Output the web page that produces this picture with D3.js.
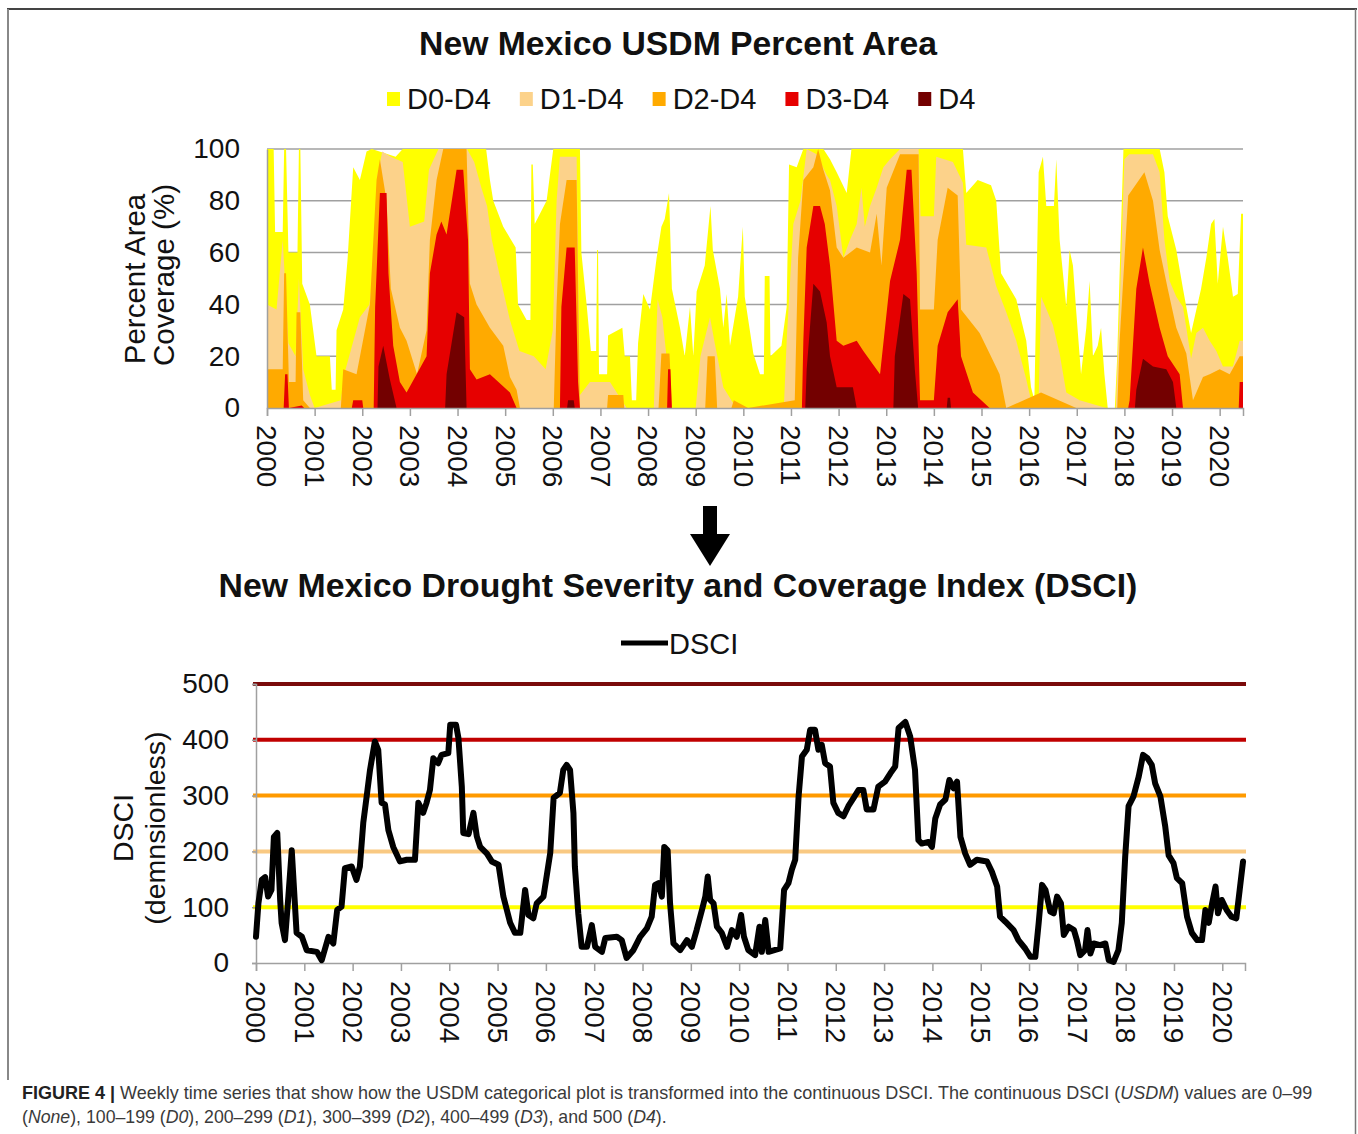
<!DOCTYPE html>
<html><head><meta charset="utf-8">
<script src="https://cdn.jsdelivr.net/npm/d3@7"></script>
<style>body{margin:0;background:#fff} svg{display:block}</style>
</head><body><svg id="c" width="1358" height="1134"></svg>
<script>
// ---------------- DATA ----------------
const years = d3.range(2000, 2021);
const legendLabels = ["D0-D4", "D1-D4", "D2-D4", "D3-D4", "D4"];
const pctTicks = [0, 20, 40, 60, 80, 100];
const dsciTicks = [0, 100, 200, 300, 400, 500];
const refLevels = [100, 200, 300, 400, 500];

// [decimal year, percent area] readings
const d0Points = [[2000.00,100],[2000.14,100],[2000.17,68],[2000.33,68],[2000.36,100],[2000.40,100],[2000.45,60],[2000.64,60],[2000.67,100],[2000.70,100],[2000.74,48],[2000.90,40],[2001.04,20],[2001.32,20],[2001.36,7],[2001.44,7],[2001.46,30],[2001.60,38],[2001.69,57],[2001.81,93],[2001.95,88],[2002.09,99],[2002.20,100],[2002.70,97],[2002.85,100],[2004.60,100],[2004.68,88],[2004.75,80],[2004.96,70],[2005.22,62],[2005.27,40],[2005.45,34],[2005.53,34],[2005.55,94],[2005.58,94],[2005.62,71],[2005.87,80],[2006.01,100],[2006.57,100],[2006.60,60],[2006.71,40],[2006.80,22],[2006.91,22],[2006.93,61],[2006.95,61],[2006.97,13],[2007.14,13],[2007.16,28],[2007.46,31],[2007.51,20],[2007.62,20],[2007.66,3],[2007.75,3],[2007.79,25],[2007.90,44],[2008.04,38],[2008.18,58],[2008.28,70],[2008.35,73],[2008.44,83],[2008.50,46],[2008.67,31],[2008.77,20],[2008.88,39],[2008.95,20],[2009.02,45],[2009.19,55],[2009.31,78],[2009.36,61],[2009.51,46],[2009.58,31],[2009.65,44],[2009.72,24],[2009.89,43],[2009.99,70],[2010.03,43],[2010.21,21],[2010.35,13],[2010.43,13],[2010.45,51],[2010.55,51],[2010.57,20],[2010.80,24],[2010.91,39],[2010.96,94],[2011.12,93],[2011.26,100],[2011.68,100],[2011.82,96],[2011.96,91],[2012.17,83],[2012.27,100],[2014.61,100],[2014.68,83],[2014.92,88],[2015.20,86],[2015.31,80],[2015.41,52],[2015.73,42],[2015.94,26],[2016.04,8],[2016.11,3],[2016.20,91],[2016.29,97],[2016.36,78],[2016.52,78],[2016.57,96],[2016.64,65],[2016.78,39],[2016.85,61],[2016.92,55],[2016.99,37],[2017.09,13],[2017.20,31],[2017.27,49],[2017.34,20],[2017.44,24],[2017.51,31],[2017.58,13],[2017.65,0],[2017.80,0],[2017.85,20],[2017.90,52],[2017.98,100],[2018.74,100],[2018.84,91],[2018.91,74],[2019.09,61],[2019.23,46],[2019.40,29],[2019.61,46],[2019.72,58],[2019.82,71],[2019.89,73],[2019.96,48],[2020.07,70],[2020.17,58],[2020.28,43],[2020.38,44],[2020.45,75],[2020.49,75]];
const d1Points = [[2000.00,40],[2000.20,38],[2000.33,65],[2000.45,25],[2000.60,20],[2000.67,50],[2000.76,15],[2000.90,5],[2001.00,0],[2001.55,3],[2001.65,15],[2001.80,25],[2001.95,35],[2002.15,40],[2002.25,55],[2002.32,90],[2002.42,99],[2002.60,97],[2002.85,95],[2003.00,70],[2003.30,72],[2003.40,92],[2003.60,100],[2004.20,100],[2004.35,95],[2004.50,85],[2004.62,78],[2004.72,65],[2004.90,50],[2005.10,34],[2005.30,22],[2005.60,20],[2005.85,15],[2006.00,30],[2006.08,80],[2006.15,97],[2006.50,97],[2006.57,5],[2006.78,10],[2007.20,10],[2007.55,0],[2008.12,0],[2008.20,42],[2008.30,35],[2008.50,0],[2009.00,0],[2009.10,20],[2009.30,35],[2009.40,25],[2009.58,8],[2009.85,0],[2010.85,0],[2010.91,26],[2011.05,71],[2011.20,80],[2011.33,100],[2011.54,98],[2011.75,90],[2011.82,88],[2011.96,78],[2012.10,58],[2012.24,65],[2012.38,71],[2012.48,85],[2012.55,70],[2012.66,78],[2012.80,85],[2012.94,93],[2013.08,96],[2013.29,100],[2013.68,100],[2013.72,74],[2014.00,74],[2014.05,97],[2014.40,95],[2014.61,87],[2014.68,63],[2015.10,62],[2015.31,47],[2015.52,37],[2015.73,26],[2015.94,11],[2016.04,3],[2016.20,3],[2016.25,43],[2016.39,37],[2016.50,32],[2016.64,21],[2016.78,6],[2017.06,3],[2017.62,0],[2017.82,0],[2017.90,39],[2018.00,96],[2018.10,98],[2018.60,98],[2018.74,91],[2018.84,65],[2018.95,49],[2019.09,43],[2019.23,39],[2019.30,31],[2019.40,19],[2019.51,29],[2019.65,31],[2019.79,26],[2019.93,22],[2020.07,16],[2020.28,16],[2020.42,26],[2020.49,26]];
const d2Points = [[2000.00,15],[2000.33,15],[2000.36,52],[2000.40,52],[2000.46,10],[2000.60,10],[2000.62,37],[2000.70,37],[2000.76,3],[2000.90,0],[2001.55,0],[2001.60,15],[2001.88,13],[2002.16,40],[2002.30,88],[2002.37,96],[2002.51,80],[2002.60,46],[2002.79,31],[2002.93,26],[2003.15,13],[2003.35,30],[2003.42,65],[2003.56,88],[2003.70,100],[2004.19,100],[2004.26,48],[2004.40,40],[2004.68,31],[2004.96,24],[2005.10,12],[2005.24,7],[2005.31,0],[2006.02,0],[2006.08,40],[2006.15,71],[2006.29,88],[2006.50,88],[2006.57,0],[2007.14,0],[2007.16,5],[2007.48,5],[2007.50,0],[2008.22,0],[2008.28,21],[2008.45,21],[2008.50,0],[2009.20,0],[2009.25,20],[2009.40,20],[2009.45,0],[2009.75,0],[2009.80,3],[2010.10,0],[2011.08,3],[2011.15,58],[2011.26,88],[2011.47,93],[2011.57,100],[2011.68,92],[2011.82,84],[2011.96,62],[2012.10,58],[2012.38,62],[2012.66,60],[2012.80,75],[2012.90,55],[2013.01,85],[2013.29,98],[2013.68,98],[2013.71,38],[2014.00,38],[2014.08,65],[2014.29,85],[2014.50,82],[2014.57,38],[2014.96,29],[2015.17,21],[2015.38,13],[2015.52,0],[2016.25,6],[2016.99,0],[2017.85,0],[2017.90,26],[2018.08,82],[2018.42,91],[2018.60,80],[2018.74,61],[2018.91,46],[2019.09,31],[2019.30,21],[2019.44,3],[2019.65,12],[2019.79,13],[2020.00,15],[2020.21,13],[2020.42,20],[2020.49,20]];
const d3Points = [[2000.00,0],[2000.35,0],[2000.38,13],[2000.43,13],[2000.46,0],[2000.73,1],[2000.78,0],[2001.78,0],[2001.81,3],[2002.00,3],[2002.02,0],[2002.24,0],[2002.27,39],[2002.37,83],[2002.51,83],[2002.55,52],[2002.65,24],[2002.79,10],[2002.93,6],[2003.35,20],[2003.42,52],[2003.56,67],[2003.66,72],[2003.77,67],[2003.98,92],[2004.12,92],[2004.22,65],[2004.26,15],[2004.40,11],[2004.68,13],[2005.10,6],[2005.24,0],[2006.15,0],[2006.18,39],[2006.29,62],[2006.46,62],[2006.53,10],[2006.57,0],[2008.40,0],[2008.42,15],[2008.47,15],[2008.50,0],[2011.23,0],[2011.26,26],[2011.33,62],[2011.47,78],[2011.61,78],[2011.71,71],[2011.82,55],[2011.96,26],[2012.10,24],[2012.38,26],[2012.52,22],[2012.87,13],[2013.08,49],[2013.29,65],[2013.43,92],[2013.53,92],[2013.64,52],[2013.71,3],[2014.00,3],[2014.08,24],[2014.29,37],[2014.50,42],[2014.57,20],[2014.82,6],[2015.17,0],[2018.08,0],[2018.11,3],[2018.25,46],[2018.39,62],[2018.53,48],[2018.74,31],[2018.91,20],[2019.16,13],[2019.23,0],[2020.40,0],[2020.42,10],[2020.49,10]];
const d4Points = [[2000.00,0],[2002.32,0],[2002.34,16],[2002.44,24],[2002.58,11],[2002.72,0],[2003.74,0],[2003.77,13],[2003.98,37],[2004.14,35],[2004.19,0],[2006.30,0],[2006.32,3],[2006.44,3],[2006.46,0],[2011.30,0],[2011.33,15],[2011.47,48],[2011.61,45],[2011.75,33],[2011.82,20],[2011.96,8],[2012.30,8],[2012.38,0],[2013.15,0],[2013.18,20],[2013.36,44],[2013.50,42],[2013.60,15],[2013.67,0],[2014.27,0],[2014.29,4],[2014.34,4],[2014.36,0],[2018.22,0],[2018.25,7],[2018.39,19],[2018.60,16],[2018.88,15],[2019.02,10],[2019.09,0],[2020.49,0]];

const dsciYears = [2000.00,2000.05,2000.12,2000.19,2000.25,2000.32,2000.37,2000.44,2000.50,2000.53,2000.60,2000.67,2000.74,2000.84,2000.95,2001.05,2001.26,2001.36,2001.50,2001.60,2001.68,2001.77,2001.84,2001.98,2002.08,2002.15,2002.22,2002.29,2002.36,2002.46,2002.53,2002.60,2002.67,2002.74,2002.84,2002.98,2003.12,2003.29,2003.36,2003.46,2003.53,2003.60,2003.67,2003.77,2003.84,2003.98,2004.02,2004.14,2004.19,2004.26,2004.29,2004.40,2004.50,2004.57,2004.64,2004.78,2004.88,2005.02,2005.12,2005.26,2005.36,2005.47,2005.57,2005.64,2005.74,2005.81,2005.95,2006.09,2006.16,2006.29,2006.36,2006.43,2006.50,2006.57,2006.60,2006.67,2006.74,2006.85,2006.95,2007.02,2007.16,2007.23,2007.47,2007.57,2007.67,2007.81,2007.95,2008.09,2008.19,2008.26,2008.33,2008.40,2008.45,2008.52,2008.57,2008.64,2008.78,2008.92,2009.02,2009.12,2009.23,2009.30,2009.35,2009.40,2009.47,2009.54,2009.64,2009.75,2009.85,2009.95,2010.04,2010.10,2010.19,2010.33,2010.42,2010.47,2010.54,2010.61,2010.85,2010.93,2011.02,2011.09,2011.16,2011.23,2011.30,2011.40,2011.47,2011.57,2011.64,2011.71,2011.78,2011.88,2011.95,2012.05,2012.16,2012.26,2012.37,2012.47,2012.57,2012.64,2012.78,2012.88,2013.02,2013.13,2013.23,2013.30,2013.44,2013.54,2013.64,2013.71,2013.78,2013.92,2013.99,2014.06,2014.16,2014.27,2014.35,2014.44,2014.51,2014.58,2014.68,2014.78,2014.92,2015.13,2015.23,2015.34,2015.40,2015.51,2015.68,2015.78,2015.92,2016.03,2016.13,2016.20,2016.27,2016.34,2016.44,2016.51,2016.58,2016.66,2016.72,2016.82,2016.93,2016.99,2017.06,2017.16,2017.21,2017.27,2017.34,2017.47,2017.58,2017.65,2017.75,2017.85,2017.92,2017.99,2018.06,2018.16,2018.27,2018.36,2018.45,2018.54,2018.61,2018.72,2018.82,2018.89,2018.99,2019.06,2019.17,2019.27,2019.37,2019.48,2019.58,2019.65,2019.72,2019.79,2019.86,2019.91,2019.99,2020.09,2020.19,2020.29,2020.36,2020.43];
const dsciValues = [47,107,149,154,119,131,226,233,113,72,41,119,202,54,47,23,20,5,47,35,95,101,170,173,149,173,251,298,346,397,382,287,284,238,208,182,185,185,287,269,287,310,367,358,373,376,427,427,403,316,233,231,269,227,208,196,182,176,119,72,54,54,131,86,80,107,119,197,296,305,346,355,346,269,173,89,29,29,68,29,20,45,47,41,9,23,47,62,83,140,143,119,208,202,107,35,23,41,29,59,95,119,155,113,107,65,54,29,59,47,86,47,23,14,65,20,77,20,26,131,143,167,185,298,370,382,418,418,382,391,358,352,287,269,263,281,296,310,310,275,275,316,325,340,352,421,432,406,346,220,214,217,208,259,284,293,328,313,325,226,196,176,185,182,164,137,83,74,59,41,26,11,11,72,140,131,92,89,119,107,50,65,59,41,14,23,59,17,35,32,35,5,2,23,72,190,281,298,334,373,367,355,322,298,244,193,179,152,143,83,54,41,41,95,72,107,137,89,113,95,83,80,131,182];

// ---------------- STYLE ----------------
const FONT = "'Liberation Sans', Arial, Helvetica, sans-serif";
const layerColors = ["#FFFF00", "#FCD28A", "#FFAA00", "#E60000", "#730000"];
const refColors = {100: "#FFFF00", 200: "#F9C982", 300: "#FF9A00", 400: "#C00000", 500: "#7A0A0A"};
const axisGray = "#A0A0A0";

const svg = d3.select("#c").style("font-family", FONT);

// frame
svg.append("line").attr("x1", 7).attr("x2", 1357).attr("y1", 9).attr("y2", 9).attr("stroke", "#444").attr("stroke-width", 2);
svg.append("line").attr("x1", 8).attr("x2", 8).attr("y1", 9).attr("y2", 1080).attr("stroke", "#888").attr("stroke-width", 2);
svg.append("line").attr("x1", 1355.5).attr("x2", 1355.5).attr("y1", 9).attr("y2", 1134).attr("stroke", "#777").attr("stroke-width", 1.5);

function fitText(sel, target) {
  const base = 30;
  sel.style("font-size", base + "px");
  const w = sel.node().getComputedTextLength();
  sel.style("font-size", (base * target / w) + "px");
}

// ---------------- TOP CHART ----------------
const xT = d3.scaleLinear().domain([2000, 2020.49]).range([267, 1243]);
const yT = d3.scaleLinear().domain([0, 100]).range([408, 149]);

const t1 = svg.append("text").attr("x", 678).attr("y", 55).attr("text-anchor", "middle")
  .attr("font-weight", "bold").attr("fill", "#111").text("New Mexico USDM Percent Area");
fitText(t1, 518);

// legend
let lx = 387;
legendLabels.forEach((lab, i) => {
  svg.append("rect").attr("x", lx).attr("y", 92).attr("width", 13).attr("height", 14).attr("fill", layerColors[i]);
  const tx = svg.append("text").attr("x", lx + 20).attr("y", 109).style("font-size", "29px").attr("fill", "#111").text(lab);
  lx += 20 + tx.node().getComputedTextLength() + 29;
});

// grid
svg.append("g").selectAll("line").data(pctTicks.filter(d => d > 0)).join("line")
  .attr("x1", xT.range()[0]).attr("x2", xT.range()[1])
  .attr("y1", d => yT(d)).attr("y2", d => yT(d))
  .attr("stroke", axisGray).attr("stroke-width", 1.5);

// areas
const layers = [d0Points, d1Points, d2Points, d3Points, d4Points];
const area = d3.area().x(d => xT(d[0])).y0(yT(0)).y1(d => yT(d[1])).curve(d3.curveLinear);
svg.append("g").selectAll("path").data(layers).join("path")
  .attr("d", area).attr("fill", (d, i) => layerColors[i]);

// axes
const yAxT = svg.append("g").attr("transform", `translate(${xT.range()[0]},0)`)
  .call(d3.axisLeft(yT).tickValues(pctTicks).tickSize(0).tickPadding(27));
yAxT.select(".domain").attr("stroke", axisGray).attr("stroke-width", 1.5);
yAxT.selectAll("text").style("font-size", "28px").attr("fill", "#111").attr("font-family", FONT);

const xAxT = svg.append("g").attr("transform", `translate(0,${yT(0)})`)
  .call(d3.axisBottom(xT).tickValues(years).tickSize(8).tickFormat(d3.format("d")));
xAxT.select(".domain").attr("stroke", axisGray).attr("stroke-width", 1.5);
xAxT.selectAll(".tick line").attr("stroke", axisGray).attr("stroke-width", 1.5);
xAxT.selectAll("text").attr("transform", "rotate(90)").attr("x", 17).attr("y", 0).attr("dy", "0.36em")
  .style("text-anchor", "start").style("font-size", "28px").attr("fill", "#111").attr("font-family", FONT);

svg.append("text").attr("transform", "translate(145,279) rotate(-90)").attr("text-anchor", "middle")
  .style("font-size", "29.5px").attr("fill", "#111").text("Percent Area");
svg.append("text").attr("transform", "translate(174,275) rotate(-90)").attr("text-anchor", "middle")
  .style("font-size", "29.5px").attr("fill", "#111").text("Coverage (%)");

// arrow
svg.append("path").attr("d", "M703,506 L717,506 L717,534 L730,534 L710,566 L690,534 L703,534 Z").attr("fill", "#000");

// ---------------- BOTTOM CHART ----------------
const xB = d3.scaleLinear().domain([2000, 2020.47]).range([256, 1245]);
const yB = d3.scaleLinear().domain([0, 500]).range([963, 684]);

const t2 = svg.append("text").attr("x", 678).attr("y", 597).attr("text-anchor", "middle")
  .attr("font-weight", "bold").attr("fill", "#111").text("New Mexico Drought Severity and Coverage Index (DSCI)");
fitText(t2, 919);

// legend
svg.append("line").attr("x1", 621).attr("x2", 668).attr("y1", 643).attr("y2", 643).attr("stroke", "#000").attr("stroke-width", 5);
svg.append("text").attr("x", 669).attr("y", 654).style("font-size", "29px").attr("fill", "#111").text("DSCI");

// reference lines
svg.append("g").selectAll("line").data(refLevels).join("line")
  .attr("x1", 253).attr("x2", 1246).attr("y1", d => yB(d)).attr("y2", d => yB(d))
  .attr("stroke", d => refColors[d]).attr("stroke-width", 4);

const yAxB = svg.append("g").attr("transform", `translate(${xB.range()[0]},0)`)
  .call(d3.axisLeft(yB).tickValues(dsciTicks).tickSize(4).tickPadding(23));
yAxB.select(".domain").attr("stroke", axisGray).attr("stroke-width", 1.5);
yAxB.selectAll(".tick line").attr("stroke", axisGray).attr("stroke-width", 1.5);
yAxB.selectAll("text").style("font-size", "28px").attr("fill", "#111").attr("font-family", FONT);

const xAxB = svg.append("g").attr("transform", `translate(0,${yB(0)})`)
  .call(d3.axisBottom(xB).tickValues(years).tickSize(8).tickFormat(d3.format("d")));
xAxB.select(".domain").attr("stroke", axisGray).attr("stroke-width", 1.5);
xAxB.selectAll(".tick line").attr("stroke", axisGray).attr("stroke-width", 1.5);
xAxB.selectAll("text").attr("transform", "rotate(90)").attr("x", 18).attr("y", 0).attr("dy", "0.36em")
  .style("text-anchor", "start").style("font-size", "28px").attr("fill", "#111").attr("font-family", FONT);

// DSCI line
const line = d3.line().x((d, i) => xB(dsciYears[i])).y(d => yB(d));
svg.append("path").datum(dsciValues).attr("d", line).attr("fill", "none")
  .attr("stroke", "#000").attr("stroke-width", 6).attr("stroke-linejoin", "round").attr("stroke-linecap", "round");

svg.append("text").attr("transform", "translate(133,828) rotate(-90)").attr("text-anchor", "middle")
  .style("font-size", "28.5px").attr("fill", "#111").text("DSCI");
svg.append("text").attr("transform", "translate(165,828) rotate(-90)").attr("text-anchor", "middle")
  .style("font-size", "28.5px").attr("fill", "#111").text("(demnsionless)");

// ---------------- CAPTION ----------------
const CAPFONT = "'Liberation Sans Narrow', 'Arial Narrow', 'Liberation Sans', Arial, sans-serif";
function caption(y, parts, targetW) {
  const g = svg.append("g");
  const t = g.append("text").attr("x", 0).attr("y", 0).style("font-family", CAPFONT)
    .style("font-size", "17.5px").attr("fill", "#3a3a3a").attr("xml:space", "preserve");
  parts.forEach(p => {
    const s = t.append("tspan").text(p[0]);
    if (p[1] === "b") s.attr("font-weight", "bold").attr("fill", "#222");
    if (p[1] === "i") s.attr("font-style", "italic");
  });
  const w = t.node().getComputedTextLength();
  g.attr("transform", `translate(22,${y}) scale(${targetW / w},1)`);
}
caption(1099, [["FIGURE 4 |", "b"], [" Weekly time series that show how the USDM categorical plot is transformed into the continuous DSCI. The continuous DSCI (", ""], ["USDM", "i"], [") values are 0–99", ""]], 1291);
caption(1123, [["(", ""], ["None", "i"], ["), 100–199 (", ""], ["D0", "i"], ["), 200–299 (", ""], ["D1", "i"], ["), 300–399 (", ""], ["D2", "i"], ["), 400–499 (", ""], ["D3", "i"], ["), and 500 (", ""], ["D4", "i"], [").", ""]], 645);
</script></body></html>
